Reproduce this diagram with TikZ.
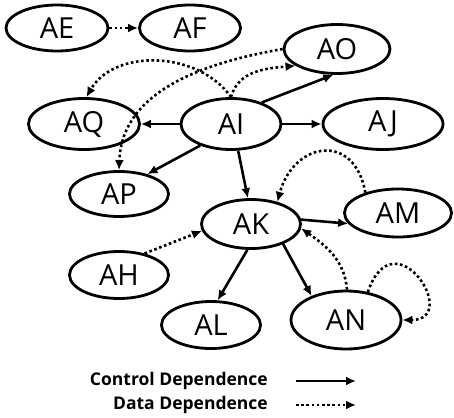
\documentclass[tikz,border=0pt]{standalone}
\usepackage{fontspec}
\setmainfont{Open Sans}
\usetikzlibrary{arrows.meta,shapes.geometric}
\begin{document}
\begin{tikzpicture}[x=1pt,y=-1pt,
    stmt/.style={draw, ellipse, line width=2.8pt, inner sep=0pt, font=\fontsize{29}{29}\selectfont},
    ctrl/.style={line width=2.6pt, -{Latex[length=10pt,width=9pt]}},
    data/.style={line width=2.6pt, dash pattern=on 2.6pt off 2.6pt, -{Latex[length=10pt,width=9pt]}},
    legend/.style={anchor=east, inner sep=0pt, font=\fontsize{17.5}{18}\selectfont\bfseries}]
    \useasboundingbox (0,0) rectangle (454,417);
    \node[stmt, minimum width=102pt, minimum height=46pt] (AE) at (57,28) {AE};
    \node[stmt, minimum width=101pt, minimum height=46pt] (AF) at (190,28) {AF};
    \node[stmt, minimum width=106pt, minimum height=49pt] (AO) at (337,49) {AO};
    \node[stmt, minimum width=111pt, minimum height=51pt] (AQ) at (84,124) {AQ};
    \node[stmt, minimum width=100pt, minimum height=51pt] (AI) at (231,124) {AI};
    \node[stmt, minimum width=120pt, minimum height=51pt] (AJ) at (383,124) {AJ};
    \node[stmt, minimum width=99pt, minimum height=45pt] (AP) at (119,194) {AP};
    \node[stmt, minimum width=99pt, minimum height=49pt] (AK) at (251,224) {AK};
    \node[stmt, minimum width=107pt, minimum height=48pt] (AM) at (398,213) {AM};
    \node[stmt, minimum width=99pt, minimum height=47pt] (AH) at (119,275) {AH};
    \node[stmt, minimum width=99pt, minimum height=47pt] (AL) at (211,325) {AL};
    \node[stmt, minimum width=110pt, minimum height=58pt] (AN) at (346,320) {AN};
    % control dependences
    \draw[ctrl] (AI) -- (AQ);
    \draw[ctrl] (AI) -- (AJ);
    \draw[ctrl] (AI.35) -- (AO.262);
    \draw[ctrl] (AI.215) -- (AP.35);
    \draw[ctrl] (AI.285) -- (AK.97);
    \draw[ctrl] (AK.5) -- (AM.192);
    \draw[ctrl] (AK.262) -- (AL.75);
    \draw[ctrl] (AK.-32) -- (AN.145);
    % data dependences
    \draw[data] (AE) -- (AF);
    \draw[data] (AO.west) to[out=190, in=88] (AP.north);
    \draw[data] (AI.north) to[out=125, in=60] (AQ.85);
    \draw[data] (AI.north) to[out=75, in=185] (AO.202);
    \draw[data] (AM.148) to[out=100, in=75, looseness=1.8] (AK.40);
    \draw[data] (AN.88) to[out=95, in=-35] (AK.-5);
    \draw[data] (AN.52) .. controls (394,215) and (462,320) .. (AN.east);
    \draw[data] (AH.40) -- (AK.188);
    % legend
    \node[legend] (lc) at (268,381) {Control Dependence};
    \node[legend] (ld) at (268,405) {Data Dependence};
    \coordinate (lc1) at (296,381);
    \coordinate (lc2) at (356,381);
    \coordinate (ld1) at (296,405);
    \coordinate (ld2) at (356,405);
    \draw[ctrl] (lc1) -- (lc2);
    \draw[data] (ld1) -- (ld2);
\end{tikzpicture}
\end{document}
